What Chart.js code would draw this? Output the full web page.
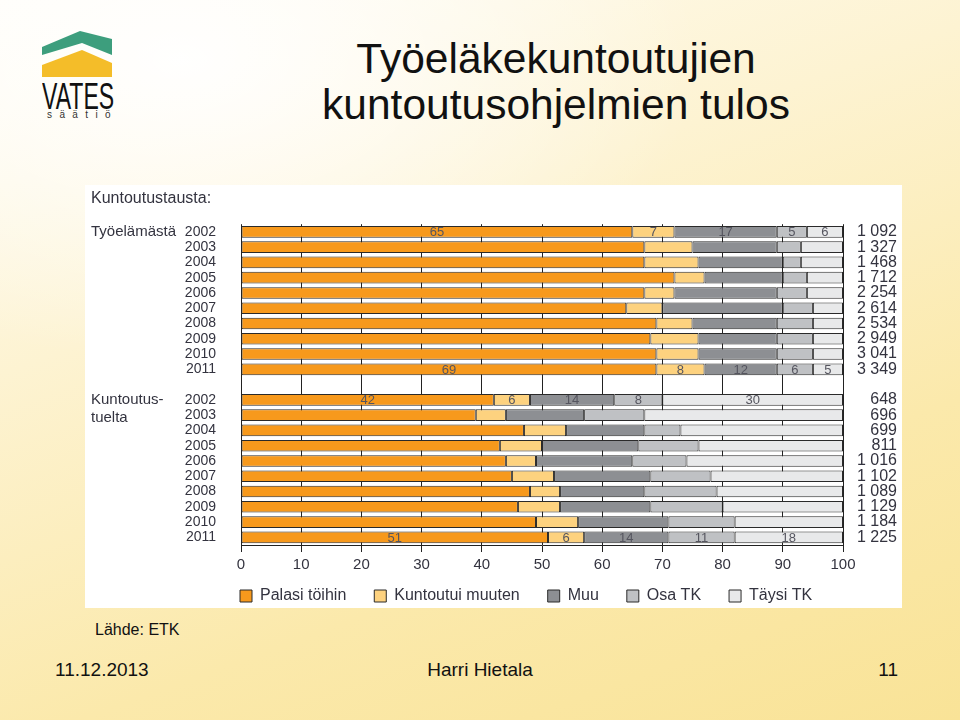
<!DOCTYPE html>
<html lang="fi">
<head>
<meta charset="utf-8">
<title>Työeläkekuntoutujien kuntoutusohjelmien tulos</title>
<script src="https://cdn.jsdelivr.net/npm/chart.js@4/dist/chart.umd.min.js"></script>
<style>
  html, body { margin: 0; padding: 0; }
  body {
    width: 960px; height: 720px; position: relative; overflow: hidden;
    font-family: "Liberation Sans", Arial, sans-serif;
    background:
      radial-gradient(ellipse 520px 300px at 180px 60px, rgba(255,255,255,0.95), rgba(255,255,255,0) 100%),
      linear-gradient(160deg, #fffdf6 0%, #fdf3d2 35%, #fbe9ab 70%, #f9e397 100%);
  }
  .narrow { font-family: "Liberation Sans Narrow", "Arial Narrow", "Liberation Sans", sans-serif; }
  #logo { position: absolute; left: 38px; top: 26px; width: 82px; height: 100px; }
  #logo .vates { position: absolute; left: 4px; top: 51px; font-size: 36px; line-height: 40px; color: #111; transform: scaleX(0.76); transform-origin: left top; }
  #logo .saatio { position: absolute; left: 9px; top: 83px; font-size: 10px; color: #333; letter-spacing: 7.4px; }
  #title { position: absolute; left: 256px; width: 600px; top: 36px; text-align: center; font-size: 42.5px; line-height: 46px; color: #111; }
  #chartbox { position: absolute; left: 85px; top: 185px; width: 817px; height: 423px; background: #fff; }
  #source { position: absolute; left: 95px; top: 621px; font-size: 19px; color: #111; }
  .foot { position: absolute; top: 659px; font-size: 22px; color: #111; }
  body.nonarrow #source { font-size: 16px; }
  body.nonarrow .foot { font-size: 19px; }
  body.nonarrow #logo .vates { transform: scaleX(0.64); }
</style>
</head>
<body>
<div id="logo">
  <svg width="82" height="54" viewBox="0 0 82 54">
    <polygon points="4,21 42,5 74,13 74,29 44,17 4,29" fill="#3d9e7d"/>
    <polygon points="4,39 44,24 74,37 74,51 4,51" fill="#f4bd29"/>
  </svg>
  <div class="vates narrow">VATES</div>
  <div class="saatio">säätiö</div>
</div>
<div id="title">Työeläkekuntoutujien<br>kuntoutusohjelmien tulos</div>
<div id="chartbox"><canvas id="c" width="817" height="423"></canvas></div>
<div id="source" class="narrow">Lähde: ETK</div>
<div class="foot narrow" style="left:55px;">11.12.2013</div>
<div class="foot narrow" style="left:380px;width:200px;text-align:center;">Harri Hietala</div>
<div class="foot narrow" style="left:860px;width:38px;text-align:right;">11</div>

<script>
// ---- data ----
const years = ['2002','2003','2004','2005','2006','2007','2008','2009','2010','2011'];
const seriesNames = ['Palasi töihin','Kuntoutui muuten','Muu','Osa TK','Täysi TK'];
const groupNames = ['Työelämästä', 'Kuntoutus-\ntuelta'];
const chartTitle = 'Kuntoutustausta:';

// Työelämästä (%)
const tyoPalasi    = [65,67,67,72,67,64,69,68,69,69];
const tyoKuntoutui = [7,8,9,5,5,6,6,8,7,8];
const tyoMuu       = [17,14,14,13,17,20,14,13,13,12];
const tyoOsa       = [5,4,3,4,5,5,6,6,6,6];
const tyoTaysi     = [6,7,7,6,6,5,5,5,5,5];
const tyoN = ['1 092','1 327','1 468','1 712','2 254','2 614','2 534','2 949','3 041','3 349'];

// Kuntoutustuelta (%)
const ktPalasi    = [42,39,47,43,44,45,48,46,49,51];
const ktKuntoutui = [6,5,7,7,5,7,5,7,7,6];
const ktMuu       = [14,13,13,16,16,16,14,15,15,14];
const ktOsa       = [8,10,6,10,9,10,12,12,11,11];
const ktTaysi     = [30,33,27,24,26,22,21,20,18,18];
const ktN = ['648','696','699','811','1 016','1 102','1 089','1 129','1 184','1 225'];

const xTicks = [0,10,20,30,40,50,60,70,80,90,100];
const labeledYears = ['2002','2011'];

// ---- font detection (condensed font if installed) ----
function hasFont(name) {
  const c = document.createElement('canvas').getContext('2d');
  const s = 'abcdefghijklmnop0123456789';
  c.font = '20px monospace'; const a = c.measureText(s).width;
  c.font = '20px "' + name + '", monospace'; const b = c.measureText(s).width;
  return Math.abs(a - b) > 0.5;
}
const NARROW = hasFont('Liberation Sans Narrow');
if (!NARROW) document.body.classList.add('nonarrow');
const FONT = NARROW ? '"Liberation Sans Narrow", sans-serif' : '"Liberation Sans", Arial, sans-serif';
const fs = n => NARROW ? n : Math.round(n * 0.84);

// ---- build ----
const categories = [...years, '', ...years];
const nLabels = [...tyoN, '', ...ktN];
const join = (a, b) => [...a, null, ...b];
const colors = ['#f7991c', '#fdd27f', '#8d8f93', '#bfc1c4', '#e8e9ea'];
const seriesData = [
  join(tyoPalasi, ktPalasi),
  join(tyoKuntoutui, ktKuntoutui),
  join(tyoMuu, ktMuu),
  join(tyoOsa, ktOsa),
  join(tyoTaysi, ktTaysi)
];
const labeledIdx = [];
categories.forEach((c, i) => { if (labeledYears.includes(c)) labeledIdx.push(i); });

const textColor = '#33333f';

const segLabels = {
  id: 'segLabels',
  afterDatasetsDraw(chart) {
    const ctx = chart.ctx;
    ctx.save();
    ctx.font = fs(15) + 'px ' + FONT;
    ctx.fillStyle = '#55555f';
    ctx.textAlign = 'center';
    ctx.textBaseline = 'middle';
    chart.data.datasets.forEach((ds, di) => {
      const meta = chart.getDatasetMeta(di);
      labeledIdx.forEach(i => {
        const el = meta.data[i];
        if (!el || ds.data[i] == null) return;
        ctx.fillText(String(ds.data[i]), (el.x + el.base) / 2, el.y + 1);
      });
    });
    ctx.restore();
  }
};

const groupLabels = {
  id: 'groupLabels',
  afterDraw(chart) {
    const ctx = chart.ctx;
    const y = chart.scales.y;
    ctx.save();
    ctx.font = fs(18) + 'px ' + FONT;
    ctx.fillStyle = textColor;
    ctx.textAlign = 'left';
    ctx.textBaseline = 'middle';
    const starts = [0, years.length + 1];
    groupNames.forEach((g, gi) => {
      const py = y.getPixelForValue(starts[gi]);
      g.split('\n').forEach((line, li) => ctx.fillText(line, 6, py + li * 18));
    });
    ctx.restore();
  }
};

// place legend just below the axis labels, starting at the plot's left edge
const legendPlace = {
  id: 'legendPlace',
  beforeDraw(chart) {
    const lg = chart.legend;
    if (!lg) return;
    const P = lg.options.labels.padding;
    const dx = chart.chartArea.left - 1 - (lg.left + P);
    lg.left += dx; lg.right += dx;
    const itemH = Math.max(lg.options.labels.font.size || 12, lg.options.labels.boxHeight || 0);
    lg.top = chart.chartArea.bottom + 51 - P - itemH / 2;
  }
};

new Chart(document.getElementById('c'), {
  type: 'bar',
  data: {
    labels: categories,
    datasets: seriesNames.map((name, i) => ({
      label: name,
      data: seriesData[i],
      backgroundColor: colors[i],
      borderColor: '#2a2a2a',
      borderWidth: 1,
      borderSkipped: false,
      barPercentage: 0.76,
      categoryPercentage: 1.0
    }))
  },
  options: {
    indexAxis: 'y',
    responsive: false,
    animation: false,
    layout: { padding: { left: 6, right: 5, top: 0, bottom: 0 } },
    scales: {
      x: {
        stacked: true,
        min: 0, max: 100,
        afterBuildTicks(scale) { scale.ticks = xTicks.map(v => ({ value: v })); },
        afterFit(scale) { scale.height = 33; },
        grid: { color: '#222', lineWidth: 1, tickLength: 7, drawTicks: true },
        border: { display: true, color: '#222', width: 1 },
        ticks: { color: textColor, font: { family: FONT, size: fs(18) }, padding: 4, maxRotation: 0 }
      },
      y: {
        stacked: true,
        position: 'left',
        afterFit(scale) { scale.width = 150; },
        grid: { display: false },
        border: { display: false },
        ticks: { color: textColor, font: { family: FONT, size: fs(17) }, padding: 17, autoSkip: false }
      },
      y2: {
        type: 'category',
        position: 'right',
        labels: nLabels,
        offset: true,
        afterFit(scale) { scale.width = 54; },
        grid: { display: false },
        border: { display: false },
        ticks: { color: textColor, font: { family: FONT, size: fs(19) }, padding: 15, crossAlign: 'far', autoSkip: false }
      }
    },
    plugins: {
      title: {
        display: true, text: chartTitle, align: 'start',
        color: textColor, font: { family: FONT, size: fs(19), weight: 'normal' },
        padding: { top: 4, bottom: 16 }
      },
      legend: {
        position: 'bottom', align: 'start', maxHeight: 30,
        labels: { color: textColor, font: { family: FONT, size: fs(19) }, boxWidth: 12, boxHeight: 12, padding: 28 }
      },
      tooltip: { enabled: false }
    }
  },
  plugins: [segLabels, groupLabels, legendPlace]
});
</script>
</body>
</html>
